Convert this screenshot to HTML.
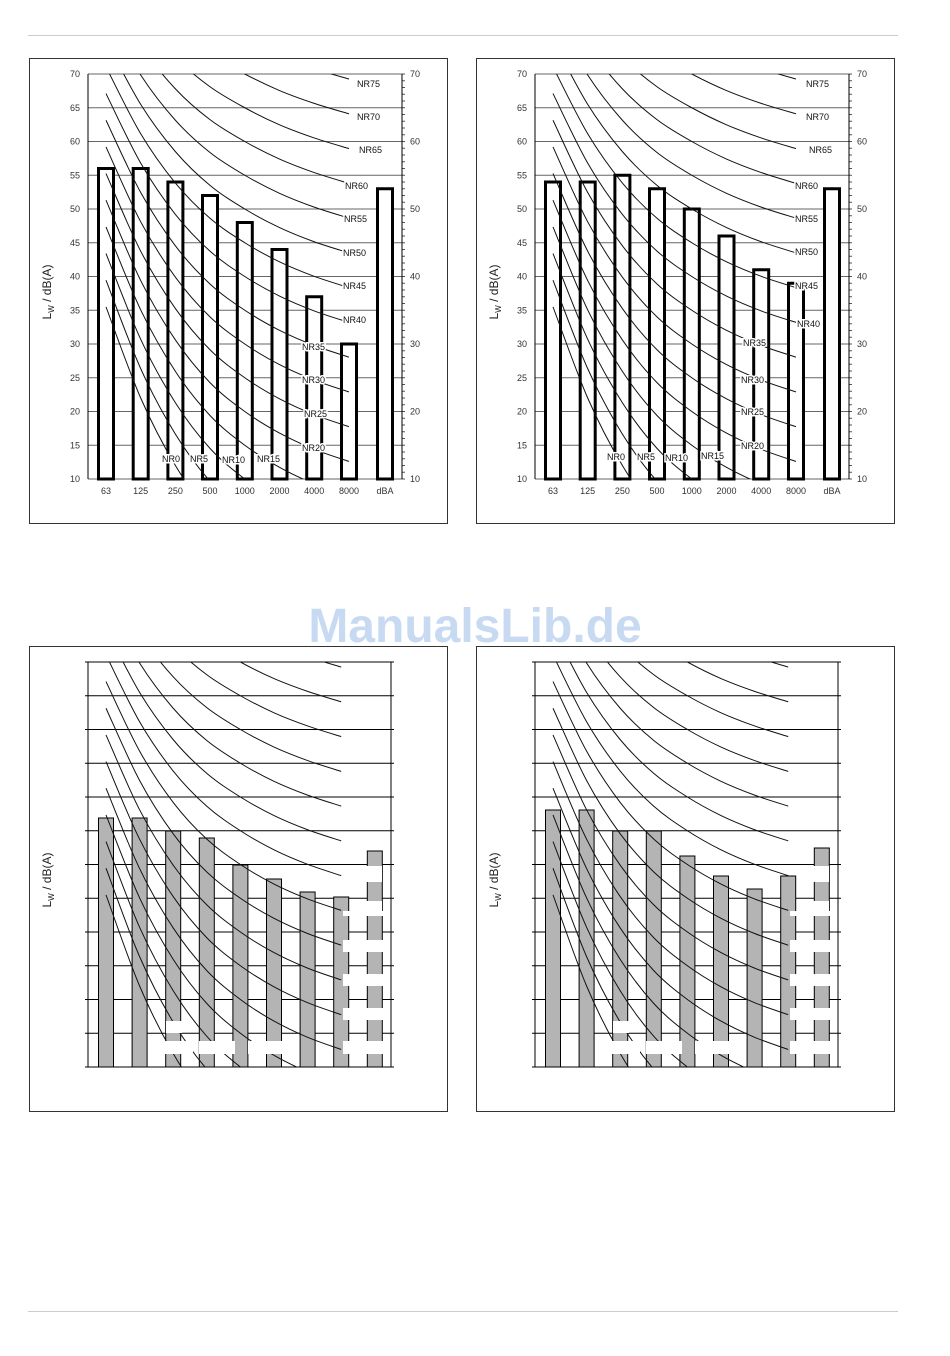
<!DOCTYPE html>
<html><head><meta charset="utf-8"><style>
body{margin:0;background:#fff;width:950px;height:1356px;overflow:hidden;font-family:"Liberation Sans",sans-serif}
svg{position:absolute;left:0;top:0}
</style></head><body>
<svg id="s" width="950" height="1356" xmlns="http://www.w3.org/2000/svg"></svg>
<script>
const S=document.getElementById('s');let h='';
h+='<line x1="28" y1="35.5" x2="898" y2="35.5" stroke="#ccc"/><line x1="28" y1="1311.5" x2="898" y2="1311.5" stroke="#ccc"/>';
h+='<text x="475" y="642" text-anchor="middle" font-size="48" font-weight="bold" fill="#c8daf2">ManualsLib.de</text>';
const A=[35.5,22,12,4.8,0,-3.5,-6.1,-8],B=[.79,.87,.93,.974,1,1.015,1.025,1.03];
function chart(ox,oy,top,vals,labels,bars){
 h+=`<rect x="${ox+29.5}" y="${oy+58.5}" width="418" height="465" fill="none" stroke="#333"/>`;
 const L=ox+88,R=ox+(top?402:391),T=oy+74,Bt=oy+479,k=(Bt-T)/60;
 const Y=v=>Bt-(v-10)*k;
 const xs=top?[106,140.7,175.4,210,244.8,279.5,314.2,349,385].map(x=>x+ox):[0,1,2,3,4,5,6,7,8].map(i=>ox+106+i*33.6);
 h+=`<defs><clipPath id="c${ox}${oy}"><rect x="${L}" y="${T}" width="${R-L}" height="${Bt-T}"/></clipPath></defs>`;
 const gc=top?'#666':'#000';
 for(let v=10;v<=70;v+=5){h+=`<line x1="${L-(top?0:3)}" y1="${Y(v)}" x2="${R+(top?0:3)}" y2="${Y(v)}" stroke="${gc}" stroke-width="1"/>`;
  if(top){h+=`<text x="${L-8}" y="${Y(v)+3}" font-size="9" text-anchor="end" fill="#333">${v}</text>`;
   if(v%10==0)h+=`<text x="${R+8}" y="${Y(v)+3}" font-size="9" fill="#333">${v}</text>`;}}
 if(top){for(let v=10;v<=70;v++)h+=`<line x1="${R}" y1="${Y(v)}" x2="${R+3}" y2="${Y(v)}" stroke="#555"/>`;}
 h+=`<line x1="${L}" y1="${T}" x2="${L}" y2="${Bt}" stroke="#000"/><line x1="${R}" y1="${T}" x2="${R}" y2="${Bt}" stroke="#000"/>`;
 vals.forEach((t,i)=>{const x=xs[i]-7.5;
  if(top)h+=`<rect x="${x}" y="${t}" width="15" height="${Bt-t}" fill="#fff" stroke="#000" stroke-width="3"/>`;
  else h+=`<rect x="${x}" y="${t}" width="15" height="${Bt-t}" fill="#b4b4b4" stroke="#000" stroke-width="1"/>`;});
 let g=`<g clip-path="url(#c${ox}${oy})" fill="none" stroke="#111" stroke-width="1">`;
 for(let n=0;n<=75;n+=5){const P=A.map((a,i)=>[xs[i],Y(a+B[i]*n)]);
  let d=`M${P[0][0]},${P[0][1]}`;
  for(let i=0;i<7;i++){const p0=P[Math.max(0,i-1)],p1=P[i],p2=P[i+1],p3=P[Math.min(7,i+2)];
   d+=` C${p1[0]+(p2[0]-p0[0])/6},${p1[1]+(p2[1]-p0[1])/6} ${p2[0]-(p3[0]-p1[0])/6},${p2[1]-(p3[1]-p1[1])/6} ${p2[0]},${p2[1]}`;}
  g+=`<path d="${d}"/>`;}
 h+=g+'</g>';
 if(top){labels.forEach(([t,x,y])=>{h+=`<text x="${x+ox}" y="${y+oy+3}" font-size="9" fill="#111" stroke="#fff" stroke-width="3" paint-order="stroke">${t}</text>`;});
  ['63','125','250','500','1000','2000','4000','8000','dBA'].forEach((t,i)=>h+=`<text x="${xs[i]}" y="${oy+494}" font-size="9" text-anchor="middle" fill="#333">${t}</text>`);}
 else{bars.forEach(([x,y,w,hh])=>h+=`<rect x="${x+ox}" y="${y}" width="${w}" height="${hh}" fill="#fff"/>`);}
 h+=`<text transform="translate(${ox+51},${oy+292}) rotate(-90)" font-size="12" text-anchor="middle" fill="#222">L<tspan font-size="8" dy="3">W</tspan><tspan dy="-3"> / dB(A)</tspan></text>`;
}
const labL=[['NR75',357,84],['NR70',357,117],['NR65',359,150],['NR60',345,186],['NR55',344,219],['NR50',343,253],['NR45',343,286],['NR40',343,320],['NR35',302,347],['NR30',302,380],['NR25',304,414],['NR20',302,448],['NR0',162,459],['NR5',190,459],['NR10',222,460],['NR15',257,459]];
const labR=[['NR75',359,84],['NR70',359,117],['NR65',362,150],['NR60',348,186],['NR55',348,219],['NR50',348,252],['NR45',348,286],['NR40',350,324],['NR35',296,343],['NR30',294,380],['NR25',294,412],['NR20',294,446],['NR0',160,457],['NR5',190,457],['NR10',218,458],['NR15',254,456]];
const Yt=v=>479-(v-10)*6.75;
chart(0,0,true,[56,56,54,52,48,44,37,30,53].map(Yt),labL);
chart(447,0,true,[54,54,55,53,50,46,41,39,53].map(Yt),labR);
const wb=[[166,1021,16,12],[163,1041,30,13],[199,1041,36,13],[248,1041,34,13],[343,911,40,5],[343,940,40,12],[343,974,40,12],[343,1008,40,12],[343,1041,40,13],[366,866,16,16],[366,901,16,14]];
chart(0,588,false,[818,818,831,838,865,879,892,897,851],null,wb);
chart(447,588,false,[810,810,831,831,856,876,889,876,848],null,wb);
S.innerHTML=h;
</script>
</body></html>
